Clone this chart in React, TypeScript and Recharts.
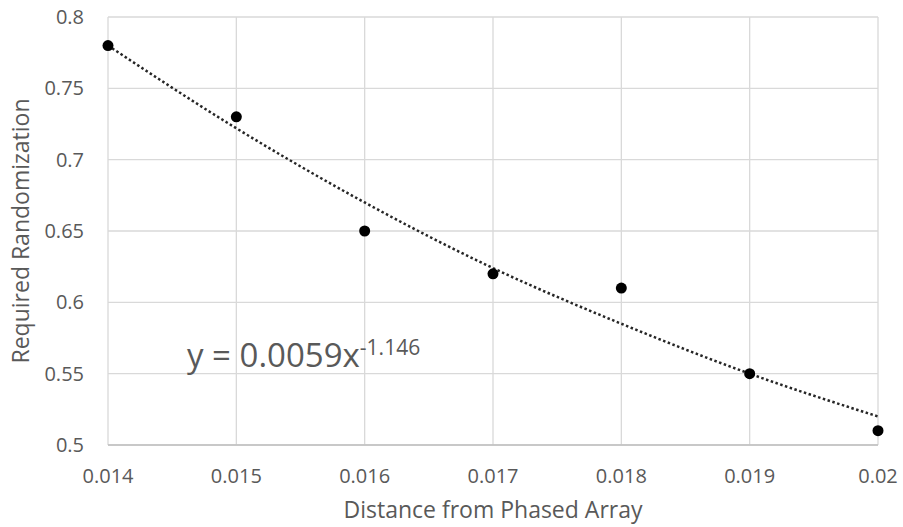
import {
  ComposedChart,
  Line,
  Scatter,
  XAxis,
  YAxis,
  CartesianGrid,
} from 'recharts';

// distance from phased array (x) and required randomization (y)
const distance = [0.014, 0.015, 0.016, 0.017, 0.018, 0.019, 0.02];
const randomization = [0.78, 0.73, 0.65, 0.62, 0.61, 0.55, 0.51];
// power trendline at each x tick
const trendFit = [0.78, 0.722, 0.67, 0.624, 0.585, 0.55, 0.52];

const xTicks = [0.014, 0.015, 0.016, 0.017, 0.018, 0.019, 0.02];
const yTicks = [0.5, 0.55, 0.6, 0.65, 0.7, 0.75, 0.8];

const data = distance.map((d, i) => ({
  distance: d,
  value: randomization[i],
  trend: trendFit[i],
}));

const textColor = '#595959';
const font = '"Open Sans", sans-serif';

const Dot = (props: any) => <circle cx={props.cx} cy={props.cy} r={5.5} fill="#000" />;

export default function App() {
  return (
    <div style={{ position: 'absolute', left: 0, top: 0, width: 903, height: 527, background: '#fff' }}>
      <ComposedChart
        width={903}
        height={527}
        data={data}
        margin={{ top: 17, right: 25, bottom: 0, left: 0 }}
      >
        <CartesianGrid stroke="#d9d9d9" strokeWidth={1.3} />
        <XAxis
          dataKey="distance"
          type="number"
          domain={[0.014, 0.02]}
          ticks={xTicks}
          height={82}
          tickSize={0}
          tickMargin={24}
          tickLine={false}
          axisLine={{ stroke: '#bfbfbf', strokeWidth: 1.3 }}
          tick={{ fill: textColor, fontSize: 20, fontFamily: font }}
          label={{
            value: 'Distance from Phased Array',
            position: 'insideBottom',
            offset: 9,
            fill: textColor,
            fontSize: 23,
            fontFamily: font,
          }}
        />
        <YAxis
          type="number"
          domain={[0.5, 0.8]}
          ticks={yTicks}
          width={108}
          tickSize={0}
          tickMargin={24}
          tickLine={false}
          axisLine={false}
          tick={{ fill: textColor, fontSize: 20, fontFamily: font }}
          label={{
            value: 'Required Randomization',
            angle: -90,
            position: 'insideLeft',
            offset: 21,
            fill: textColor,
            fontSize: 23,
            fontFamily: font,
            style: { textAnchor: 'middle' },
          }}
        />
        <Line
          type="monotone"
          dataKey="trend"
          stroke="#262626"
          strokeWidth={2.5}
          strokeDasharray="2.5 2.5"
          dot={false}
          activeDot={false}
          isAnimationActive={false}
        />
        <Scatter dataKey="value" fill="#000" shape={Dot} isAnimationActive={false} />
      </ComposedChart>
      <svg
        width={903}
        height={527}
        style={{ position: 'absolute', left: 0, top: 0, pointerEvents: 'none' }}
      >
        <text x={187} y={367} fill={textColor} fontFamily={font} fontSize={33}>
          y = 0.0059x
          <tspan fontSize={21} dy={-12}>-1.146</tspan>
        </text>
      </svg>
    </div>
  );
}
